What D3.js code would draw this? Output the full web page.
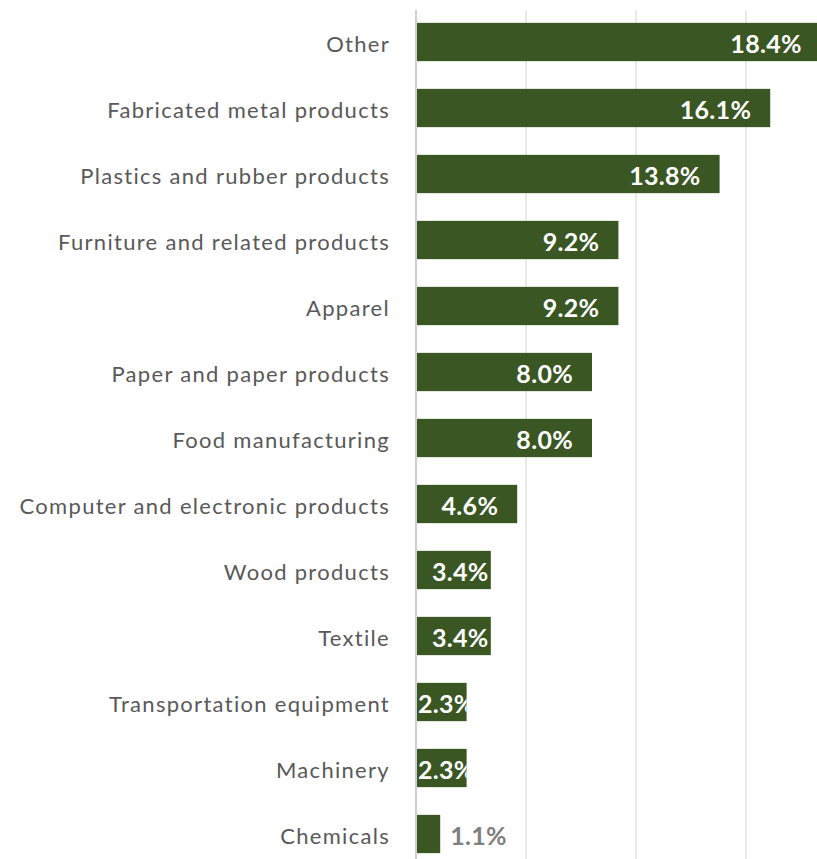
<!DOCTYPE html>
<html>
<head>
<meta charset="utf-8">
<script src="https://cdn.jsdelivr.net/npm/d3@7"></script>
<style>
  body { margin: 0; background: #fff; }
  svg text { font-family: Lato, "Open Sans", sans-serif; }
</style>
</head>
<body>
<div id="chart"></div>
<script>
// data
var categories = ["Other", "Fabricated metal products", "Plastics and rubber products",
  "Furniture and related products", "Apparel", "Paper and paper products",
  "Food manufacturing", "Computer and electronic products", "Wood products",
  "Textile", "Transportation equipment", "Machinery", "Chemicals"];
var shares = [18.4, 16.1, 13.8, 9.2, 9.2, 8.0, 8.0, 4.6, 3.4, 3.4, 2.3, 2.3, 1.1];
var gridTicks = [0, 5, 10, 15, 20];

var width = 817, height = 859;

var svg = d3.select("#chart")
  .append("svg")
    .attr("width", width)
    .attr("height", height);

var x = d3.scaleLinear()
  .domain([0, 20])
  .range([416, 856]);

var y = d3.scaleBand()
  .domain(categories)
  .range([9, 9 + 66 * categories.length])
  .paddingInner(0.42)
  .paddingOuter(0.21);

var data = categories.map(function(c, i) { return {name: c, value: shares[i]}; });

// vertical gridlines
svg.append("g")
  .selectAll("line")
  .data(gridTicks.slice(1))
  .join("line")
    .attr("x1", d => x(d)).attr("x2", d => x(d))
    .attr("y1", 10).attr("y2", height)
    .attr("stroke", "#e3e3e3")
    .attr("stroke-width", 1.5);

// clip paths so labels that are too wide get cut at the bar end
var defs = svg.append("defs");
defs.selectAll("clipPath")
  .data(data)
  .join("clipPath")
    .attr("id", (d, i) => "clip" + i)
  .append("rect")
    .attr("x", x(0))
    .attr("y", d => y(d.name))
    .attr("width", d => x(d.value) - x(0))
    .attr("height", y.bandwidth());

// bars
svg.append("g")
  .selectAll("rect")
  .data(data)
  .join("rect")
    .attr("x", x(0))
    .attr("y", d => y(d.name))
    .attr("width", d => x(d.value) - x(0))
    .attr("height", y.bandwidth())
    .attr("fill", "#3a5623");

// axis line at zero
svg.append("line")
  .attr("x1", x(0)).attr("x2", x(0))
  .attr("y1", 10).attr("y2", height)
  .attr("stroke", "#d0d0d0")
  .attr("stroke-width", 2);

// category labels
svg.append("g")
  .selectAll("text")
  .data(data)
  .join("text")
    .attr("x", 390)
    .attr("y", d => y(d.name) + y.bandwidth() / 2)
    .attr("dy", "0.45em")
    .attr("text-anchor", "end")
    .attr("fill", "#595959")
    .style("font-size", "22px")
    .style("letter-spacing", "1.3px")
    .text(d => d.name);

// value labels
var labels = svg.append("g")
  .selectAll("text")
  .data(data)
  .join("text")
    .attr("y", d => y(d.name) + y.bandwidth() / 2)
    .attr("dy", "0.44em")
    .style("font-size", "25px")
    .style("font-weight", "bold")
    .style("letter-spacing", "0.3px")
    .text(d => d.value.toFixed(1) + "%");

labels.each(function(d, i) {
  var t = d3.select(this);
  var w = this.getComputedTextLength();
  var x0 = x(0), x1 = x(d.value);
  if (d.value < 2) {
    // too small: label sits outside in gray
    t.attr("x", x1 + 10).attr("fill", "#808080");
  } else {
    var left = x1 - 19 - w;
    if (left < x0 + 16) left = Math.min(x0 + 16, x1 - w - 2);
    if (left < x0 + 2) left = x0 + 2;
    t.attr("x", left).attr("fill", "#fff")
     .attr("clip-path", "url(#clip" + i + ")");
  }
});
</script>
</body>
</html>
